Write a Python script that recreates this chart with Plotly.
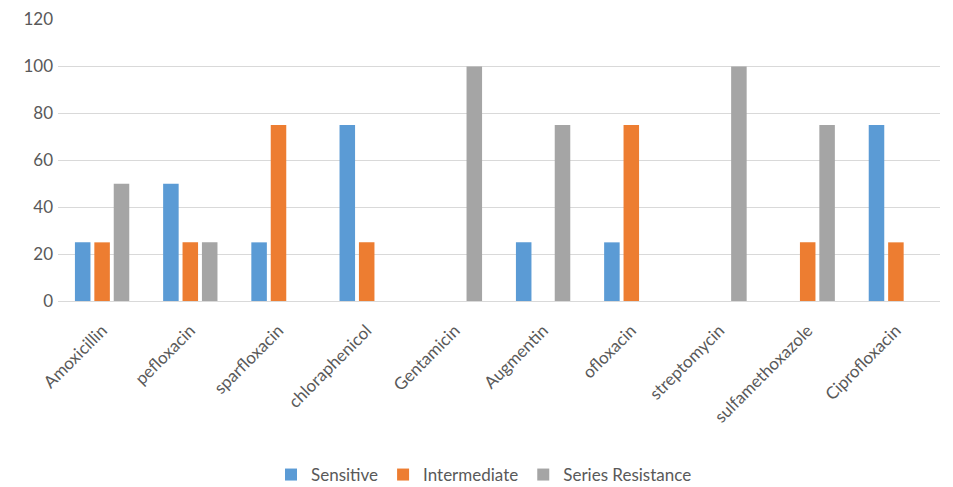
import plotly.graph_objects as go

categories = ["Amoxicillin", "pefloxacin", "sparfloxacin", "chloraphenicol", "Gentamicin",
              "Augmentin", "ofloxacin", "streptomycin", "sulfamethoxazole", "Ciprofloxacin"]
sensitive = [25, 50, 25, 75, 0, 25, 25, 0, 0, 75]
intermediate = [25, 25, 75, 25, 0, 0, 75, 0, 25, 25]
resistance = [50, 25, 0, 0, 100, 75, 0, 100, 75, 0]
y_ticks = [0, 20, 40, 60, 80, 100, 120]

colors = ["#5B9BD5", "#ED7D31", "#A5A5A5"]
names = ["Sensitive", "Intermediate", "Series Resistance"]
series = [sensitive, intermediate, resistance]

fig = go.Figure()
for n, vals, c in zip(names, series, colors):
    fig.add_trace(go.Bar(x=categories, y=vals, name=n, marker=dict(color=c, line=dict(width=0))))

font_family = "Lato, Open Sans, sans-serif"
fig.update_layout(
    width=937, height=479,
    margin=dict(l=50, r=5, t=11, b=186, autoexpand=False),
    paper_bgcolor="white", plot_bgcolor="white",
    barmode="group", bargap=0.34, bargroupgap=0.2,
    font=dict(family=font_family, size=17, color="#595959"),
    showlegend=True,
    legend=dict(orientation="h", x=0.483, xanchor="center", y=-0.617, yanchor="middle",
                font=dict(size=17, color="#595959"), itemwidth=30, tracegroupgap=0),
    xaxis=dict(tickangle=-45, showgrid=False, showline=True, linecolor="#D9D9D9",
               ticks="", automargin=False, ticklabelstandoff=12,
               tickfont=dict(size=17, color="#595959")),
    yaxis=dict(range=[0, 120.2], tickvals=y_ticks, showgrid=True, gridcolor="#D9D9D9",
               zeroline=False, showline=False, ticks="", ticklen=0, automargin=False,
               ticklabelstandoff=4,
               tickfont=dict(size=17, color="#595959")),
)
fig.write_html("out.html")
